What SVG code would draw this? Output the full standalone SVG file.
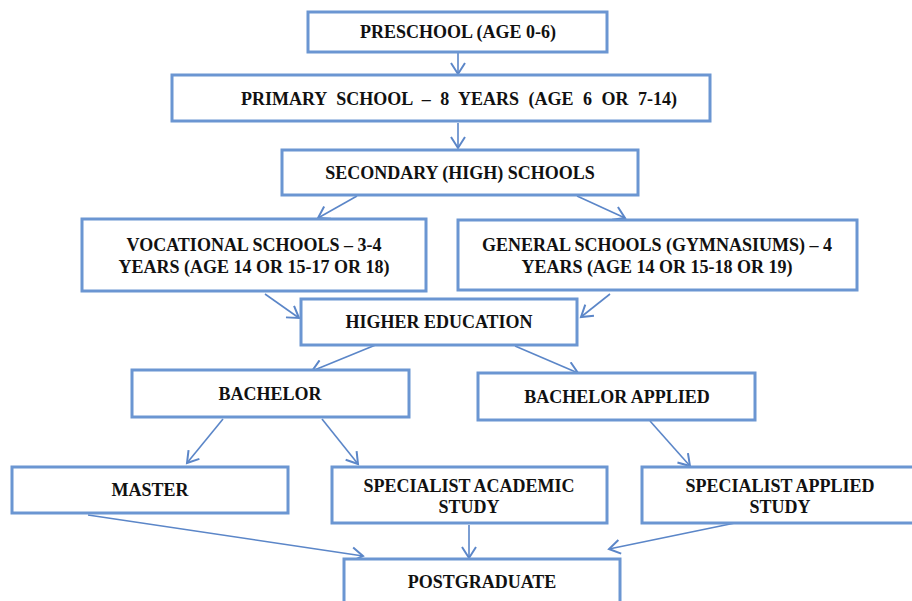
<svg xmlns="http://www.w3.org/2000/svg" width="912" height="601" viewBox="0 0 912 601">
<style>
.box{fill:#fff;stroke:#6b96d2;stroke-width:3}
.t{font-family:"Liberation Serif","Times New Roman",serif;font-weight:bold;font-size:18px;fill:#111;text-anchor:middle;dominant-baseline:central}
.c{fill:none;stroke:#5b86c8;stroke-width:1.6}
</style>
<defs>
<marker id="a" markerUnits="userSpaceOnUse" markerWidth="16" markerHeight="16" refX="12" refY="8" orient="auto">
<path d="M1,1 L12,8 L1,15" fill="none" stroke="#5b86c8" stroke-width="2"/>
</marker>
</defs>
<g id="connectors">
<line class="c" x1="458" y1="53" x2="458" y2="74" marker-end="url(#a)"/>
<line class="c" x1="458" y1="123" x2="458" y2="148" marker-end="url(#a)"/>
<line class="c" x1="357" y1="196" x2="318" y2="218" marker-end="url(#a)"/>
<line class="c" x1="577" y1="196" x2="625" y2="218" marker-end="url(#a)"/>
<line class="c" x1="265" y1="294" x2="299" y2="318" marker-end="url(#a)"/>
<line class="c" x1="610" y1="294" x2="581" y2="317" marker-end="url(#a)"/>
<line class="c" x1="378" y1="344" x2="312" y2="371" marker-end="url(#a)"/>
<line class="c" x1="515" y1="346" x2="578" y2="373" marker-end="url(#a)"/>
<line class="c" x1="223" y1="419" x2="187" y2="463" marker-end="url(#a)"/>
<line class="c" x1="322" y1="419" x2="358" y2="464" marker-end="url(#a)"/>
<line class="c" x1="650" y1="421" x2="690" y2="466" marker-end="url(#a)"/>
<line class="c" x1="88" y1="515" x2="363" y2="556" marker-end="url(#a)"/>
<line class="c" x1="469" y1="525" x2="469" y2="558" marker-end="url(#a)"/>
<line class="c" x1="735" y1="523" x2="609" y2="549" marker-end="url(#a)"/>
</g>
<g id="preschool"><rect class="box" x="308" y="12" width="299" height="40"/><text class="t" x="458" y="32">PRESCHOOL (AGE 0-6)</text></g>
<g id="primary"><rect class="box" x="172" y="75" width="538" height="46"/><text class="t" x="459" y="99" word-spacing="5">PRIMARY SCHOOL – 8 YEARS (AGE 6 OR 7-14)</text></g>
<g id="secondary"><rect class="box" x="282" y="150" width="356" height="45"/><text class="t" x="460" y="173">SECONDARY (HIGH) SCHOOLS</text></g>
<g id="vocational"><rect class="box" x="82" y="219" width="344" height="72"/><text class="t" x="254" y="245">VOCATIONAL SCHOOLS – 3-4</text><text class="t" x="254" y="267">YEARS (AGE 14 OR 15-17 OR 18)</text></g>
<g id="general"><rect class="box" x="458" y="220" width="399" height="70"/><text class="t" x="657" y="245">GENERAL SCHOOLS (GYMNASIUMS) – 4</text><text class="t" x="657" y="267">YEARS (AGE 14 OR 15-18 OR 19)</text></g>
<g id="higher"><rect class="box" x="301" y="299" width="276" height="46"/><text class="t" x="439" y="322">HIGHER EDUCATION</text></g>
<g id="bachelor"><rect class="box" x="132" y="370" width="277" height="47"/><text class="t" x="270" y="394">BACHELOR</text></g>
<g id="bachelor-applied"><rect class="box" x="478" y="373" width="277" height="47"/><text class="t" x="617" y="397">BACHELOR APPLIED</text></g>
<g id="master"><rect class="box" x="12" y="467" width="276" height="46"/><text class="t" x="150" y="490">MASTER</text></g>
<g id="specialist-academic"><rect class="box" x="332" y="467" width="275" height="56"/><text class="t" x="469" y="486">SPECIALIST ACADEMIC</text><text class="t" x="469" y="507">STUDY</text></g>
<g id="specialist-applied"><rect class="box" x="642" y="467" width="275" height="56"/><text class="t" x="780" y="486">SPECIALIST APPLIED</text><text class="t" x="780" y="507">STUDY</text></g>
<g id="postgraduate"><rect class="box" x="344" y="559" width="276" height="50"/><text class="t" x="482" y="582">POSTGRADUATE</text></g>
</svg>
